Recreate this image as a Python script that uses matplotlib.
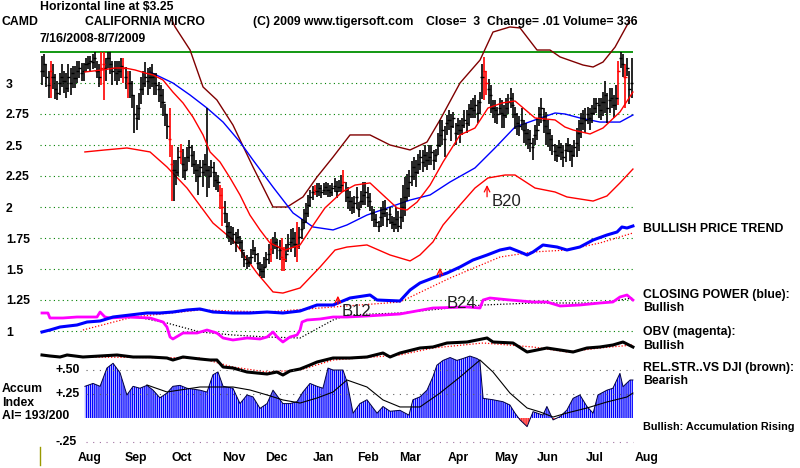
import numpy as np
import matplotlib.pyplot as plt
from matplotlib.lines import Line2D

plt.rcParams['font.family'] = ['Liberation Sans', 'DejaVu Sans']
plt.rcParams['hatch.linewidth'] = 1.0

# ---- daily bars, 7/16/2008 .. 8/7/2009 (trading day 0..268) ----
close = [3.10,3.15,3.05,2.98,3.10,3.05,2.95,2.92,3.00,3.05,
         3.02,2.96,3.05,3.00,3.08,3.04,3.10,3.12,3.08,3.10,
         3.15,3.16,3.18,3.17,3.20,3.10,3.05,3.12,3.15,3.12,
         3.20,3.15,3.10,3.12,3.08,3.10,3.14,3.12,3.05,3.00,
         3.00,2.90,2.75,2.72,2.80,2.95,3.00,3.05,3.02,3.05,
         3.05,3.00,2.98,2.95,2.90,2.85,2.75,2.65,2.55,2.35,
         2.30,2.28,2.40,2.45,2.35,2.30,2.40,2.48,2.42,2.35,
         2.30,2.25,2.32,2.28,2.35,2.30,2.25,2.32,2.28,2.22,
         2.20,2.10,2.00,1.95,1.85,1.80,1.75,1.78,1.72,1.76,
         1.72,1.65,1.58,1.55,1.56,1.60,1.65,1.62,1.55,1.50,
         1.48,1.52,1.58,1.62,1.66,1.70,1.72,1.68,1.65,1.60,
         1.58,1.62,1.70,1.72,1.75,1.70,1.68,1.76,1.82,1.88,
         1.95,2.02,2.08,2.12,2.14,2.13,2.15,2.12,2.14,2.16,
         2.14,2.12,2.15,2.17,2.13,2.16,2.18,2.20,2.14,2.08,
         2.05,2.00,2.03,2.08,1.98,2.05,2.10,2.12,2.08,2.05,
         1.95,1.90,1.88,1.85,1.92,1.95,1.98,1.90,1.94,1.88,
         1.86,1.90,1.85,1.92,2.00,2.08,2.15,2.20,2.25,2.32,
         2.28,2.35,2.40,2.36,2.42,2.38,2.40,2.44,2.38,2.42,
         2.50,2.58,2.62,2.55,2.68,2.70,2.65,2.72,2.60,2.66,
         2.62,2.66,2.70,2.68,2.75,2.80,2.78,2.82,2.76,2.85,
         3.05,3.10,3.00,2.95,2.90,2.80,2.78,2.75,2.80,2.76,
         2.74,2.80,2.85,2.88,2.82,2.75,2.68,2.65,2.70,2.62,
         2.60,2.55,2.52,2.48,2.58,2.62,2.75,2.80,2.70,2.65,
         2.60,2.55,2.50,2.45,2.42,2.48,2.44,2.40,2.46,2.50,
         2.45,2.42,2.48,2.52,2.60,2.68,2.72,2.70,2.75,2.72,
         2.76,2.80,2.84,2.82,2.78,2.85,2.90,2.80,2.86,2.88,
         2.82,2.88,3.10,3.20,3.15,3.05,3.12,2.95,3.00]
# distance of high / low from close, in cents
up = [12,8,10,12,8,10,12,10,8,10, 8,12,10,12,6,10,8,6,8,6,
      5,6,4,6,5,8,10,13,10,8, 5,10,8,6,10,8,6,8,8,10,
      10,12,15,10,12,10,10,12,10,8, 10,8,10,6,8,10,8,10,25,15,
      8,10,8,6,12,10,8,6,8,10, 8,10,6,10,8,50,8,6,8,6,
      6,8,15,10,10,8,10,6,8,6, 5,8,6,6,4,6,8,6,8,6,
      6,8,6,8,8,6,8,6,8,15, 10,8,8,10,8,10,20,8,8,10,
      8,8,6,5,4,6,4,6,5,4, 5,6,4,6,8,6,8,10,6,8,
      8,8,6,8,6,8,10,8,8,6, 6,8,6,4,8,10,8,6,6,5,
      6,10,12,15,18,16,12,10,12,8, 10,8,6,10,8,6,10,6,8,5,
      10,12,8,10,6,8,10,5,8,6, 8,6,8,10,8,6,10,8,10,8,
      10,11,10,8,8,6,8,6,8,10, 8,8,6,8,10,6,8,8,10,8,
      8,8,10,8,8,10,6,8,10,12, 10,8,8,6,8,6,8,10,6,6,
      6,8,6,12,10,8,6,10,6,8, 6,8,4,6,10,8,12,12,10,8,
      8,10,8,5,8,10,8,15,20]
dn = [12,10,8,10,22,10,8,6,10,8, 10,8,12,10,12,8,10,8,6,8,
      6,5,8,6,8,6,8,14,29,10, 8,8,12,10,10,8,10,12,10,12,
      12,10,15,10,10,12,10,8,12,10, 8,10,8,10,10,12,10,10,15,30,
      25,10,15,10,12,8,10,12,10,8, 10,15,8,12,10,22,10,8,12,8,
      8,12,15,8,10,8,6,8,8,6, 6,6,6,5,4,6,4,6,5,6,
      5,9,6,8,10,8,6,10,8,12, 10,6,6,8,8,10,12,10,8,6,
      8,10,8,6,4,5,6,5,4,6, 6,4,6,5,6,4,6,8,10,10,
      8,6,8,10,6,6,8,10,8,8, 6,6,4,5,8,10,6,6,8,6,
      6,8,5,10,12,15,10,12,8,10, 12,8,10,8,10,8,6,10,8,6,
      8,10,12,15,10,8,12,8,10,8, 10,8,6,8,10,8,6,10,8,10,
      18,24,10,12,14,8,10,8,6,12, 10,8,10,8,10,12,10,8,8,10,
      10,8,8,10,8,8,10,12,10,15, 12,10,8,8,6,8,6,8,10,6,
      8,10,8,12,15,12,10,10,8,10, 8,6,8,10,8,12,14,12,10,8,
      10,10,28,8,10,25,6,12,12]
red_days = [4, 27, 28, 37, 39, 58, 59, 63, 81, 82, 104, 109, 110, 116,
            124, 137, 201, 202, 262, 265]

# ---- price overlays (day index, price) ----
ma_x = [19.5,27.3,33.2,37.7,42.3,46.8,50.5,55,59.5,64.1,68.6,73.2,76.4,80.9,85.5,90,
        94.5,99.1,103.6,110.5,117.3,122.7,128.6,136.4,142.3,149.1,155,161.4,165.9,170.5,
        176.4,182.3,190,196.8,202.7,209.1,215,220.9,224.1,233.2,237.7,241.4,249.1,255,
        262.7,268.6]
ma_y = [3.089,3.105,3.121,3.121,3.105,3.081,3.065,3.024,2.927,2.839,2.726,2.581,2.444,
        2.363,2.234,2.097,1.935,1.815,1.71,1.653,1.694,1.839,1.992,2.121,2.177,2.194,
        2.097,1.992,1.976,2.04,2.177,2.363,2.581,2.637,2.798,2.839,2.855,2.766,2.718,
        2.702,2.645,2.621,2.589,2.637,2.766,2.927]
ma50_x = [49.1,59.5,67.3,75,82.3,90,95.9,105,114.1,123.2,132.3,138.6,147.7,158.2,167.3,
          176.4,185.5,196.8,205.9,215,224.1,233.2,237.7,244.5,253.6,262.7,268.6]
ma50_y = [3.089,3.0,2.903,2.798,2.685,2.524,2.379,2.161,1.952,1.839,1.815,1.855,1.935,
          2.0,2.056,2.097,2.202,2.315,2.476,2.645,2.702,2.758,2.75,2.718,2.685,2.685,2.742]
lowband_x = [19.5,28.6,38.6,49.1,56.8,65.9,77.7,86.8,97.7,105,109.5,117.3,126.4,133.2,
             138.6,147.7,158.2,167.3,171.8,177.7,182.3,190,196.8,202.7,210.5,215,224.1,
             233.2,238.6,250.5,256.8,262.7,268.6]
lowband_y = [2.444,2.46,2.476,2.444,2.323,2.153,1.871,1.734,1.468,1.315,1.306,1.347,1.516,
             1.653,1.677,1.694,1.613,1.565,1.613,1.718,1.855,2.016,2.153,2.234,2.258,2.258,
             2.153,2.121,2.081,2.048,2.089,2.194,2.306]
upband_x = [53.6,60.5,67.3,73.2,79.5,86.8,95.9,105,111.4,118.6,125,132.3,140,149.1,158.2,
            167.3,175,180.9,190,199.1,205,212.7,217.3,225,230.9,235.5,245.9,250.5,255,
            260.5,266,268.6]
upband_y = [3.71,3.452,3.266,2.968,2.863,2.661,2.323,2.0,2.0,2.081,2.242,2.403,2.581,2.581,
            2.5,2.46,2.524,2.702,3.0,3.185,3.411,3.452,3.444,3.266,3.266,3.21,3.145,3.129,
            3.169,3.29,3.468,3.548]

# ---- closing power, OBV, rel. strength (scaled units) ----
cp_x = [0,3.6,8.2,15.9,20.5,26.4,32.3,40,47.7,53.6,59.5,65.9,71.8,77.7,86.8,94.5,102.3,
        109.5,117.3,125,132.3,140,149.1,152.3,162.7,167.3,171.8,177.7,184.1,190,195.9,
        202.3,208.2,212.7,217.3,220.5,223.2,227.7,234.1,238.6,244.5,250.5,256.8,261.4,
        263.6,265.9,268.6]
cp_y = [118,120,123,125,128,129,133,135,137,137,138,140,141,138,137,137,138,137,139,145,
        145,152,155,150,149,160,167,172,177,183,190,195,200,202,198,195,198,205,203,200,
        203,210,215,218,223,222,224]
cpma_x = [18.6,41.4,71.8,102.3,132.3,162.7,185.5,208.2,223.2,238.6,253.6,268.6]
cpma_y = [120,133,140,138,143,148,172,193,198,200,207,217]
obv_x = [0,2.7,3.6,9.5,15.9,25,26.4,28.6,30.9,38.6,49.1,55,56.8,58.2,59.5,64.1,70.5,75,
         79.5,82.3,86.8,93.2,99.1,102.3,105,107.3,109.5,112.7,115.9,117.3,118.2,120.5,
         126.4,132.3,138.6,147.7,162.7,177.7,193.2,199.1,200.5,203.6,212.7,223.2,229.5,
         235.5,244.5,253.6,259.5,262.7,265.9,268.6]
obv_y = [137,137,132,132,133,133,138,133,132,133,132,128,123,113,111,117,117,120,117,112,
         110,112,111,113,118,112,108,113,115,120,128,130,131,133,133,134,136,142,143,142,
         150,152,150,148,148,144,145,147,148,153,155,150]
obvma_x = [38.6,56.8,71.8,86.8,102.3,117.3,132.3,138.6,162.7,185.5,200.5,223.2,253.6,268.6]
obvma_y = [135,127,118,115,113,112,130,135,137,142,145,147,147,152]
rs_x = [0,3.6,8.2,11.4,18.6,26.4,34.1,41.4,49.1,56.8,59.5,64.1,71.8,76.4,79.5,82.3,86.8,
        93.2,97.7,102.3,106.8,109.5,112.7,117.3,121.8,125,132.3,140,147.7,155,158.2,162.7,
        171.8,177.7,184.1,193.2,202.3,205,214.1,220.5,229.5,235.5,241.4,247.7,253.6,259.5,
        264.1,268.6]
rs_y = [95,94,93,95,93,94,95,93,93,92,90,93,91,90,90,83,82,78,77,76,78,75,79,81,85,88,92,
        92,93,97,93,97,102,103,107,108,112,108,107,98,102,100,98,102,103,105,108,103]
rsma_x = [18.6,71.8,86.8,102.3,117.3,132.3,162.7,177.7,200.5,223.2,238.6,253.6,268.6]
rsma_y = [93,92,83,78,80,90,95,102,107,103,98,102,105]

# ---- accumulation index ----
ai_x = [19.5,23.2,26.4,29.5,32.3,35.5,38.6,41.4,44.5,47.7,50.5,53.6,56.8,59.5,62.7,65.9,
        71.8,75,77.7,80,82.3,86.8,90,93.2,95.9,99.1,102.3,105,109.5,112.7,115.9,118.6,
        121.8,125,127.7,130,132.3,136.8,138.6,141.4,144.5,147.7,152.3,155,158.2,162.7,
        166.8,168.6,171.8,175,177.7,179.5,182.3,185.5,188.6,191.4,194.5,197.7,199,200.5,
        205,209.5,212.7,215,217.3,220.5,223.2,227.7,229.5,232.3,235.5,238.6,241.4,244.5,
        247.7,250.5,252.7,256.8,259.5,262.7,264.1,267.3,268.6]
ai_y = [0.33,0.36,0.33,0.52,0.57,0.47,0.24,0.33,0.31,0.34,0.29,0.21,0.26,0.33,0.34,0.31,
        0.29,0.27,0.45,0.48,0.33,0.31,0.15,0.24,0.22,0.10,0.15,0.29,0.15,0.15,0.17,0.27,
        0.36,0.33,0.31,0.52,0.50,0.50,0.38,0.05,0.15,0.19,0.05,0.12,0.07,0.08,0.03,0.19,
        0.22,0.29,0.43,0.55,0.60,0.63,0.60,0.62,0.645,0.62,0.60,0.205,0.19,0.17,0.135,
        0.05,-0.02,-0.09,0.066,0.03,0.12,-0.02,0.015,0.083,0.205,0.24,0.12,0.05,0.24,0.29,
        0.31,0.465,0.326,0.396,0.396]
aima_x = [47.7,56.8,71.8,86.8,94.5,102.3,109.5,117.3,125,132.3,138.6,147.7,155,162.7,171.8,
          180.9,190,199.1,205,212.7,220.5,226.4,232.3,238.6,247.7,256.8,265.9,268.6]
aima_y = [0.344,0.271,0.323,0.323,0.292,0.24,0.188,0.156,0.208,0.271,0.396,0.323,0.188,
          0.115,0.115,0.26,0.427,0.604,0.479,0.26,0.104,0.063,0.01,0.052,0.104,0.167,0.219,
          0.26]

price_ticks = [3, 2.75, 2.5, 2.25, 2, 1.75, 1.5, 1.25, 1]
price_lbls = ['3', '2.75', '2.5', '2.25', '2', '1.75', '1.5', '1.25', '1']
month_pos = [21.8, 42.7, 63.6, 87.3, 106.4, 127.7, 148.2, 167.3, 189.1, 210.9, 230, 251.4, 275]
month_lbl = ['Aug', 'Sep', 'Oct', 'Nov', 'Dec', 'Jan', 'Feb', 'Mar', 'Apr', 'May', 'Jun',
             'Jul', 'Aug']

W, H = 800, 468
fig = plt.figure(figsize=(W / 100, H / 100), dpi=100)
rect = [40 / W, (H - 450) / H, 620 / W, 430 / H]
ax = fig.add_axes(rect)
ax_ind = fig.add_axes(rect, sharex=ax)
ax_ai = fig.add_axes(rect, sharex=ax)
ax.set_xlim((40 - 42) / 2.2, (660 - 42) / 2.2)
ax.set_ylim(3 - (450 - 83) / 124, 3 + (83 - 20) / 124)
ax_ind.set_ylim(0, 430)
ax_ai.set_ylim((418 - 450) / 96, (418 - 20) / 96)
for a in (ax, ax_ind, ax_ai):
    for s in a.spines.values():
        s.set_visible(False)
for a in (ax_ind, ax_ai):
    a.patch.set_visible(False)
    a.axis('off')

BOLD = dict(fontsize=8.8, fontweight='bold')
ax.set_yticks(price_ticks, price_lbls, **BOLD)
ax.tick_params(axis='y', length=0, pad=24.5)
for t in ax.get_yticklabels():
    t.set_ha('left')
ax.set_xticks(month_pos, month_lbl, **BOLD)
ax.tick_params(axis='x', length=0, pad=1.5)

x_end = 268.6
ax.hlines(price_ticks, -0.9, x_end, colors='#008000', linestyles=(0, (1, 3)), lw=0.8)
ax.hlines(3.25, -3, x_end, colors='#009000', lw=1.3)

# bars
close = np.array(close)
hi = close + np.array(up) / 100
lo = close - np.array(dn) / 100
days = np.arange(len(close))
col = np.where(np.isin(days, red_days), '#ff0000', '#000000')
ax.vlines(days, lo, hi, colors=col, lw=1.2, zorder=3)
ax.hlines(close, days - 0.7, days + 0.7, colors=col, lw=1.0, zorder=3)

ax.plot(upband_x, upband_y, color='#800000', lw=1.0, zorder=2)
ax.plot(lowband_x, lowband_y, color='#ff0000', lw=1.0, zorder=2)
ax.plot(ma50_x, ma50_y, color='#0000ff', lw=1.0, zorder=2)
ax.plot(ma_x, ma_y, color='#ff0000', lw=1.0, zorder=4)

# indicators
ax_ind.plot(cpma_x, cpma_y, color='#ff0000', lw=0.9, ls=(0, (1, 1.5)))
ax_ind.plot(obvma_x, obvma_y, color='#000000', lw=0.9, ls=(0, (1, 1.5)))
ax_ind.plot(rsma_x, rsma_y, color='#ff0000', lw=0.9, ls=(0, (1, 1.5)))
ax_ind.plot(obv_x, obv_y, color='#ff00ff', lw=2.0)
ax_ind.plot(cp_x, cp_y, color='#0000ff', lw=2.2)
ax_ind.plot(rs_x, rs_y, color='#000000', lw=2.2)

# accumulation index
ai_x = np.array(ai_x)
ai_y = np.array(ai_y)
ax_ai.hlines([0.5, 0.25], 20, x_end, colors='#606060', linestyles=(0, (1, 5)), lw=0.8)
ax_ai.hlines(-0.25, 20, x_end, colors='#a070a0', linestyles=(0, (1, 5)), lw=0.8)
ax_ai.fill_between(ai_x, 0, ai_y, where=ai_y >= 0, interpolate=True, facecolor='none',
                   edgecolor='#0000ff', hatch='|' * 8, lw=0)
ax_ai.fill_between(ai_x, 0, ai_y, where=ai_y <= 0, interpolate=True, facecolor='none',
                   edgecolor='#ff0000', hatch='|' * 8, lw=0)
ax_ai.plot(ai_x, ai_y, color='#000040', lw=0.7)
ax_ai.plot(aima_x, aima_y, color='#000000', lw=0.8)

# signals
ax.annotate('', xy=(202.3, 2.2), xytext=(202.3, 2.06),
            arrowprops=dict(arrowstyle='->', color='#ff0000', lw=0.9))
ax.text(204.5, 2.048, 'B20', fontsize=12, color='#202020', va='center', ha='left')
ax_ind.annotate('', xy=(134.5, 157), xytext=(134.5, 143),
                arrowprops=dict(arrowstyle='->', color='#ff0000', lw=0.9))
ax_ind.text(136.4, 139, 'B12', fontsize=12, color='#202020', va='center', ha='left')
ax_ind.annotate('', xy=(180.9, 185), xytext=(180.9, 170),
                arrowprops=dict(arrowstyle='->', color='#ff0000', lw=0.9))
ax_ind.text(184.1, 146, 'B24', fontsize=12, color='#202020', va='center', ha='left')


def ftext(x, y, s, size=8.8):
    fig.text(x / W, 1 - y / H, s, va='center', ha='left', fontsize=size, fontweight='bold')


ftext(40, 7, 'Horizontal line at $3.25')
ftext(2, 22, 'CAMD')
ftext(85, 22, 'CALIFORNIA MICRO')
ftext(253, 22, '(C) 2009 www.tigersoft.com')
ftext(426, 22, 'Close=  3  Change= .01 Volume= 336')
ftext(40, 39, '7/16/2008-8/7/2009')
ftext(643, 229, 'BULLISH PRICE TREND')
ftext(643, 295, 'CLOSING POWER (blue):')
ftext(643, 308, 'Bullish')
ftext(643, 332, 'OBV (magenta):')
ftext(643, 346, 'Bullish')
ftext(643, 368, 'REL.STR..VS DJI (brown):')
ftext(643, 381, 'Bearish')
ftext(643, 427, 'Bullish: Accumulation Rising', size=7.8)
ftext(55, 370, '+.50')
ftext(55, 394, '+.25')
ftext(55, 442, '-.25')
ftext(2, 389, 'Accum')
ftext(2, 403, 'Index')
ftext(2, 416, 'AI= 193/200')
fig.add_artist(Line2D([40 / W, 40 / W], [1 - 447 / H, 1 - 465 / H], color='#999900', lw=1))

fig.savefig('out.png', dpi=100)
